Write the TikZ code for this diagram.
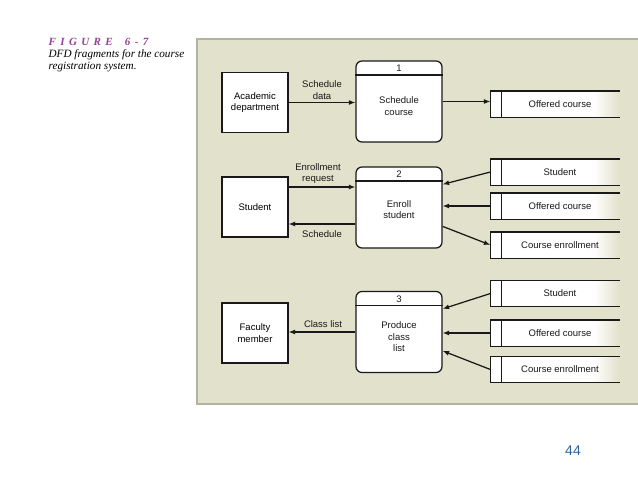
\documentclass[tikz,border=0pt]{standalone}
\usepackage{fontspec}
\setmainfont{Liberation Sans}
\newfontfamily\capfont{Liberation Serif}
\usetikzlibrary{arrows.meta,calc}
\definecolor{panel}{RGB}{226,225,204}
\definecolor{panelborder}{RGB}{176,180,158}
\definecolor{figpurple}{RGB}{150,62,148}
\definecolor{pagenum}{RGB}{40,100,160}
\definecolor{ink}{RGB}{25,25,25}
\pgfdeclarehorizontalshading{storefade}{100bp}{color(0bp)=(white); color(25bp)=(white); color(65bp)=(white); color(75bp)=(panel); color(100bp)=(panel)}
\begin{document}
\begin{tikzpicture}[x=1pt,y=-1pt,
  font=\fontsize{9.5}{11.5}\selectfont, line width=1.25pt, draw=ink,
  entity/.style={draw=ink, fill=white, minimum width=66pt, minimum height=60pt, inner sep=0pt, align=center},
  proc/.style={draw=ink, fill=white, rounded corners=6pt, minimum width=86pt, minimum height=81pt, inner sep=0pt},
  store/.style={shading=storefade, shade, minimum width=128pt, minimum height=25pt, inner sep=0pt},
  txt/.style={inner sep=0pt, align=center, text=ink},
  arr/.style={draw=ink, -{Latex[length=6.5pt,width=5pt]}},
]
\useasboundingbox (0,0) rectangle (638,479);
% caption
\node[anchor=west, inner sep=0pt, text=figpurple, font=\capfont\bfseries\itshape\fontsize{11}{12}\selectfont] (fig) at (48,41.5)
  {F\kern4.4pt I\kern4.4pt G\kern4.4pt U\kern4.4pt R\kern4.4pt E\kern12pt 6\kern4.5pt -\kern4.5pt 7};
\node[anchor=north west, inner sep=0pt, align=left, font=\capfont\itshape\fontsize{11.2}{12.3}\selectfont] (cap) at (48,48.5)
  {DFD fragments for the course\\registration system.};
% panel
\draw[panelborder, line width=2pt, fill=panel] (197,39) rectangle (640,404);
% external entities
\node[entity] (ad) at (255,102.5) {Academic\\department};
\node[entity] (st) at (255,207) {Student};
\node[entity] (fm) at (255,333) {Faculty\\member};
% processes
\foreach \n/\y/\t/\ty in {1/101.5/{Schedule\\course}/106, 2/207.5/{Enroll\\student}/209.5, 3/332/{Produce\\class\\list}/337} {
  \node[proc] (p\n) at (399,\y) {};
  \draw[ink] ([yshift=-14.5pt]p\n.north west) -- ([yshift=-14.5pt]p\n.north east);
  \node[txt] (p\n n) at ([yshift=-8pt]p\n.north) {\n};
  \node[txt] (p\n t) at (399,\ty) {\t};
}
% data stores
\foreach \s/\y/\t in {s1/104/Offered course, s2a/172/Student, s2b/206/Offered course, s2c/245/Course enrollment,
                      s3a/293.5/Student, s3b/333/Offered course, s3c/369.5/Course enrollment} {
  \node[store] (\s) at (555,\y) {};
  \draw[ink] (\s.north east) -- (\s.north west) -- (\s.south west) -- (\s.south east);
  \draw[ink] ([xshift=11pt]\s.north west) -- ([xshift=11pt]\s.south west);
  \node[txt] (\s t) at ([xshift=5pt]\s.center) {\t};
}
% flows
\draw[arr] (ad.east) -- (ad.east -| p1.west);
\draw[arr] (p1.east) -- (p1.east -| s1.west);
\draw[arr] ([yshift=20pt]st.east) -- ([yshift=20pt]st.east -| p2.west);
\draw[arr] ([yshift=-17pt]st.east -| p2.west) -- ([yshift=-17pt]st.east);
\draw[arr] (s2a.west) -- ([yshift=-18pt]p2.north east);
\draw[arr] (s2b.west) -- (s2b.west -| p2.east);
\draw[arr] ([yshift=-60pt]p2.north east) -- (s2c.west);
\draw[arr] (p3.west) -- (p3.west -| fm.east);
\draw[arr] (s3a.west) -- ([yshift=-18pt]p3.north east);
\draw[arr] (s3b.west) -- (s3b.west -| p3.east);
\draw[arr] (s3c.west) -- ([yshift=-60pt]p3.north east);
% flow labels
\node[txt] (l1) at (322,90) {Schedule\\data};
\node[txt] (l2) at (318,173.5) {Enrollment\\request};
\node[txt] (l3) at (322,234) {Schedule};
\node[txt] (l4) at (323,324) {Class list};
% page number
\node[inner sep=0pt, text=pagenum, font=\fontsize{14}{16}\selectfont] (pg) at (573,451) {44};
\end{tikzpicture}
\end{document}
